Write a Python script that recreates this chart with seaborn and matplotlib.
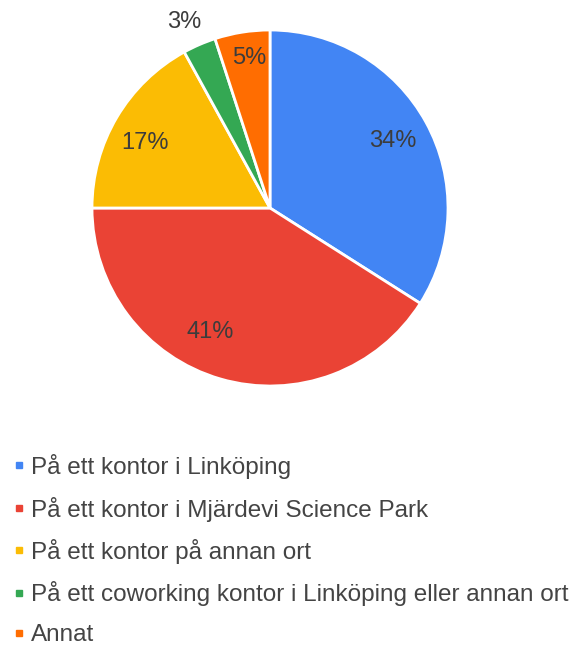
import matplotlib
matplotlib.use("Agg")
import matplotlib.pyplot as plt
import seaborn as sns
import numpy as np
from matplotlib.lines import Line2D

categories = [
    "På ett kontor i Linköping",
    "På ett kontor i Mjärdevi Science Park",
    "På ett kontor på annan ort",
    "På ett coworking kontor i Linköping eller annan ort",
    "Annat",
]
values = [34, 41, 17, 3, 5]
colors = ["#4285F4", "#EA4335", "#FBBC04", "#34A853", "#FF6D01"]

# label placement style (radius fraction, angular nudge in degrees)
label_dist = [0.785, 0.773, 0.79, 1.15, 0.85]
label_nudge = [0.0, -9.4, 3.1, 1.3, -1.0]

sns.set_theme(style="white")
plt.rcParams["font.family"] = ["Liberation Sans", "DejaVu Sans"]

W, H = 580, 646
fig = plt.figure(figsize=(W / 100, H / 100), dpi=100)
cx, cy, r = 270, 208, 178
ax = fig.add_axes([(cx - r) / W, (H - cy - r) / H, 2 * r / W, 2 * r / H])

wedges, texts, autotexts = ax.pie(
    values, colors=colors, startangle=90, counterclock=False,
    autopct=lambda p: f"{p:.0f}%", pctdistance=0.8,
    wedgeprops=dict(edgecolor="white", linewidth=2),
    textprops=dict(fontsize=17, color="#3c3c3c"),
)
for w, t, d, n in zip(wedges, autotexts, label_dist, label_nudge):
    ang = np.deg2rad((w.theta1 + w.theta2) / 2 + n)
    t.set_position((d * np.cos(ang), d * np.sin(ang)))
ax.set_xlim(-1, 1)
ax.set_ylim(-1, 1)
ax.set_aspect("equal")
ax.axis("off")

handles = [Line2D([0], [0], marker="s", linestyle="", markersize=5,
                  markerfacecolor=c, markeredgecolor=c) for c in colors]
fig.legend(handles, categories, loc="upper left",
           bbox_to_anchor=(14 / W, 1 - 454 / H), frameon=False,
           fontsize=17.5, labelcolor="#444444", handlelength=0.4,
           handletextpad=0.3, labelspacing=0.72, borderpad=0,
           borderaxespad=0)

fig.savefig("out.png", dpi=100, facecolor="white")
